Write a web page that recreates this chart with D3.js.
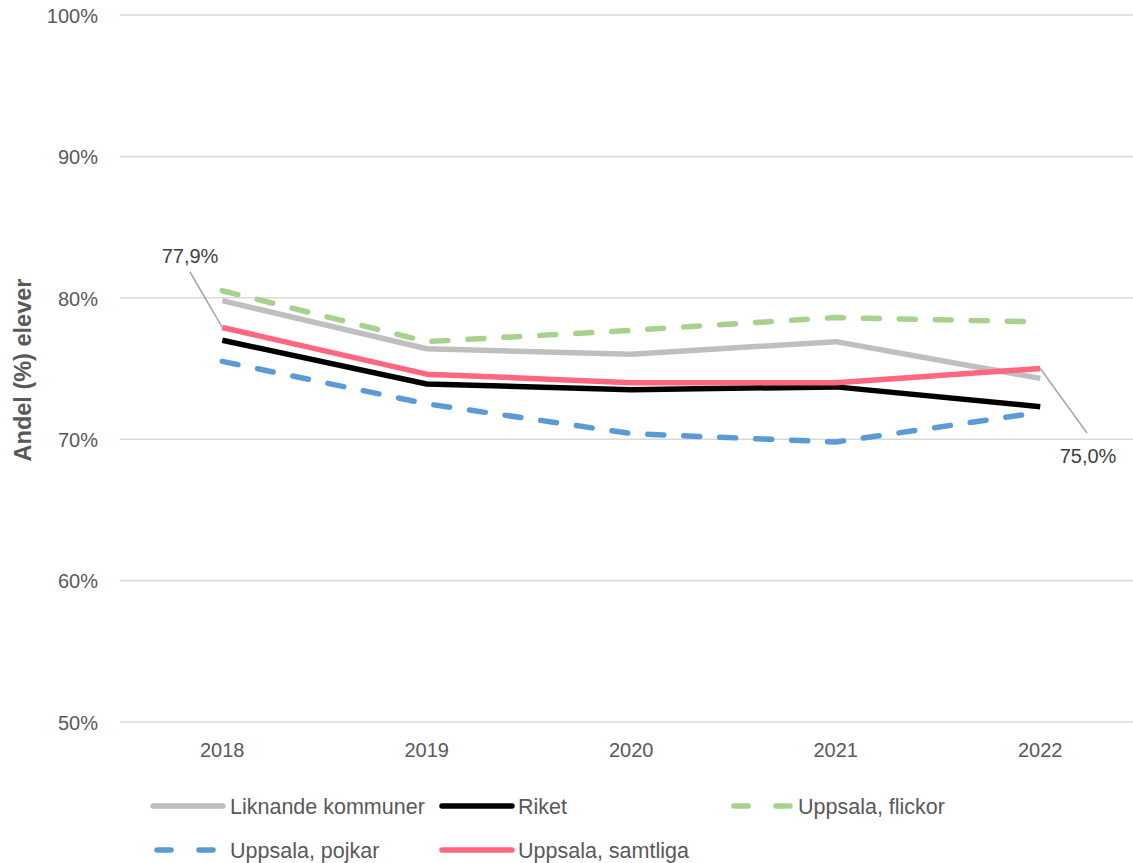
<!DOCTYPE html>
<html><head><meta charset="utf-8">
<script src="https://cdn.jsdelivr.net/npm/d3@7"></script>
<style>
body{margin:0;background:#fff;}
svg{display:block;font-family:"Liberation Sans",Arial,sans-serif;}
</style></head><body>
<svg id="c" width="1133" height="863"></svg>
<script>
const years = ["2018","2019","2020","2021","2022"];
const yTicks = [50,60,70,80,90,100];
const liknande = [79.8,76.4,76.0,76.9,74.3];
const riket = [77.0,73.9,73.5,73.7,72.3];
const flickor = [80.5,76.9,77.7,78.6,78.3];
const pojkar = [75.5,72.5,70.4,69.8,71.9];
const samtliga = [77.9,74.6,74.0,74.0,75.0];
const seriesNames = ["Liknande kommuner","Riket","Uppsala, flickor","Uppsala, pojkar","Uppsala, samtliga"];
const labels = [{i:0,text:"77,9%"},{i:4,text:"75,0%"}];

const series = [
 {name:seriesNames[0],values:liknande,color:"#bfbfbf",dash:null},
 {name:seriesNames[1],values:riket,color:"#000000",dash:null},
 {name:seriesNames[2],values:flickor,color:"#a9d18e",dash:"16,20"},
 {name:seriesNames[3],values:pojkar,color:"#5b9bd5",dash:"16,20"},
 {name:seriesNames[4],values:samtliga,color:"#ff6680",dash:null}
];

const svg=d3.select("#c");
const x=d3.scaleBand().domain(years).range([120,1142.5]);
const y=d3.scaleLinear().domain([50,100]).range([722,15]);
const cx=d=>x(d)+x.bandwidth()/2;

// grid
svg.append("g").selectAll("line").data(yTicks).join("line")
 .attr("x1",120).attr("x2",1143).attr("y1",d=>y(d)).attr("y2",d=>y(d))
 .attr("stroke","#d9d9d9").attr("stroke-width",1.5);

// y labels
const yAxis=d3.axisLeft(y).tickValues(yTicks).tickFormat(d=>d+"%").tickSize(0).tickPadding(0);
const ga=svg.append("g").attr("transform","translate(98,0)").call(yAxis);
ga.select(".domain").remove();
ga.selectAll("text").attr("fill","#595959").style("font-size","20px").attr("dy","0.36em").style("font-family","'Liberation Sans',sans-serif");

// x labels
const xAxis=d3.axisBottom(x).tickSize(0).tickPadding(0);
const gx=svg.append("g").attr("transform","translate(0,743)").call(xAxis);
gx.select(".domain").remove();
gx.selectAll("text").attr("fill","#595959").style("font-size","20px").attr("dy","0.68em").style("font-family","'Liberation Sans',sans-serif");

// axis title
svg.append("text").attr("transform","translate(31,370) rotate(-90)")
 .attr("text-anchor","middle").attr("fill","#595959").style("font-size","23.5px").style("font-weight","bold")
 .text("Andel (%) elever");

// lines
const line=d3.line().x((d,i)=>cx(years[i])).y(d=>y(d));
series.forEach(s=>{
 svg.append("path").datum(s.values).attr("d",line).attr("fill","none")
  .attr("stroke",s.color).attr("stroke-width",5.5).attr("stroke-linecap",s.dash?"round":"butt")
  .attr("stroke-linejoin","round").attr("stroke-dasharray",s.dash);
});

// data labels with leader lines
const lab0=svg.append("g");
lab0.append("line").attr("x1",cx(years[labels[0].i])).attr("y1",y(samtliga[labels[0].i])).attr("x2",190).attr("y2",272).attr("stroke","#a6a6a6").attr("stroke-width",1.5);
lab0.append("text").attr("x",190).attr("y",263).attr("text-anchor","middle").attr("fill","#404040").style("font-size","20px").text(labels[0].text);
const lab1=svg.append("g");
lab1.append("line").attr("x1",cx(years[labels[1].i])).attr("y1",y(samtliga[labels[1].i])).attr("x2",1087).attr("y2",433).attr("stroke","#a6a6a6").attr("stroke-width",1.5);
lab1.append("text").attr("x",1088).attr("y",463).attr("text-anchor","middle").attr("fill","#404040").style("font-size","20px").text(labels[1].text);

// legend
const legPos=[[153,806],[442,806],[730,806],[153,850],[442,850]];
const textX=[230,518,798,230,518];
series.forEach((s,k)=>{
 const [lx,ly]=legPos[k];
 const g=svg.append("g");
 if(s.dash){
  g.append("line").attr("x1",lx+4).attr("x2",lx+64).attr("y1",ly).attr("y2",ly)
   .attr("stroke",s.color).attr("stroke-width",5.5).attr("stroke-linecap","round").attr("stroke-dasharray","14,28");
 } else {
  g.append("line").attr("x1",lx).attr("x2",lx+70).attr("y1",ly).attr("y2",ly)
   .attr("stroke",s.color).attr("stroke-width",5.5).attr("stroke-linecap","round");
 }
 g.append("text").attr("x",textX[k]).attr("y",ly).attr("dy","0.35em")
  .attr("fill","#595959").style("font-size","21.5px").text(s.name);
});
</script></body></html>
